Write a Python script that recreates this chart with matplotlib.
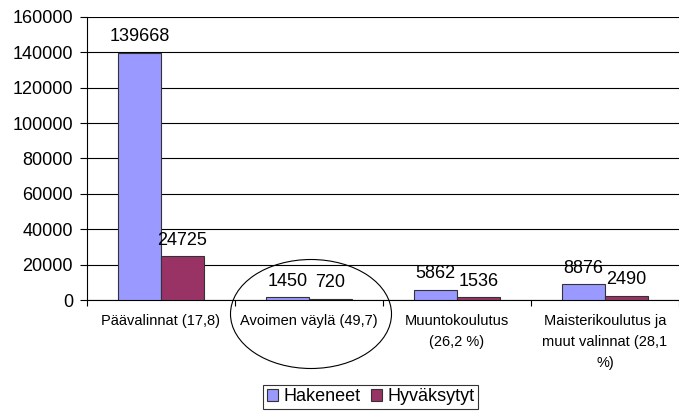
import numpy as np
import matplotlib
matplotlib.use("Agg")
import matplotlib.pyplot as plt
from matplotlib.patches import Ellipse

plt.rcParams['font.family'] = ['Liberation Sans', 'DejaVu Sans']

categories = ["Päävalinnat (17,8)", "Avoimen väylä (49,7)",
              "Muuntokoulutus\n(26,2 %)", "Maisterikoulutus ja\nmuut valinnat (28,1\n%)"]
hakeneet = [139668, 1450, 5862, 8876]
hyvaksytyt = [24725, 720, 1536, 2490]
series_names = ["Hakeneet", "Hyväksytyt"]
yticks = [0, 20000, 40000, 60000, 80000, 100000, 120000, 140000, 160000]

fig = plt.figure(figsize=(6.79, 4.13), dpi=100)
ax = fig.add_axes([0.128, 0.2736, 0.872, 0.6854])

x = np.arange(len(categories))
w = 0.29
b1 = ax.bar(x - w / 2, hakeneet, w, color="#9999FF", edgecolor="#333333", linewidth=0.8,
            label=series_names[0], zorder=3)
b2 = ax.bar(x + w / 2, hyvaksytyt, w, color="#993366", edgecolor="#333333", linewidth=0.8,
            label=series_names[1], zorder=3)

for bars in (b1, b2):
    for r in bars:
        ax.annotate(f"{int(r.get_height())}", (r.get_x() + r.get_width() / 2, r.get_height()),
                    xytext=(0, 5.5), textcoords="offset points", ha="center", va="bottom",
                    fontsize=13, zorder=4)

ax.set_xlim(-0.5, len(categories) - 0.5)
ax.set_ylim(0, 160000)
ax.set_yticks(yticks)
ax.tick_params(axis="y", labelsize=13, length=5, width=0.8, direction="out", pad=5)
ax.yaxis.grid(True, color="black", linewidth=0.8, zorder=0)

ax.set_xticks(np.arange(len(categories) + 1) - 0.5)
ax.set_xticklabels([])
ax.set_xticks(x, minor=True)
ax.set_xticklabels(categories, minor=True, fontsize=10.5)
for lab in ax.get_xticklabels(minor=True):
    lab.set_linespacing(1.65)
ax.tick_params(axis="x", which="major", length=4, width=0.8, direction="out")
ax.tick_params(axis="x", which="minor", length=0, pad=10)

for s in ("top", "right"):
    ax.spines[s].set_visible(False)
ax.spines["left"].set_linewidth(0.8)
ax.spines["bottom"].set_linewidth(0.8)

leg = fig.legend(loc="center", bbox_to_anchor=(0.546, 0.039), ncol=2, fontsize=13,
                 frameon=True, fancybox=False, edgecolor="black", handlelength=0.6,
                 handleheight=0.6, handletextpad=0.3, columnspacing=0.6,
                 borderpad=0.2, borderaxespad=0)
leg.get_frame().set_linewidth(0.8)

ell = Ellipse((311 / 679, 1 - 314 / 413), 161 / 679, 109 / 413, transform=fig.transFigure,
              fill=False, edgecolor="black", linewidth=0.8)
fig.patches.append(ell)

fig.savefig("out.png", dpi=100)
